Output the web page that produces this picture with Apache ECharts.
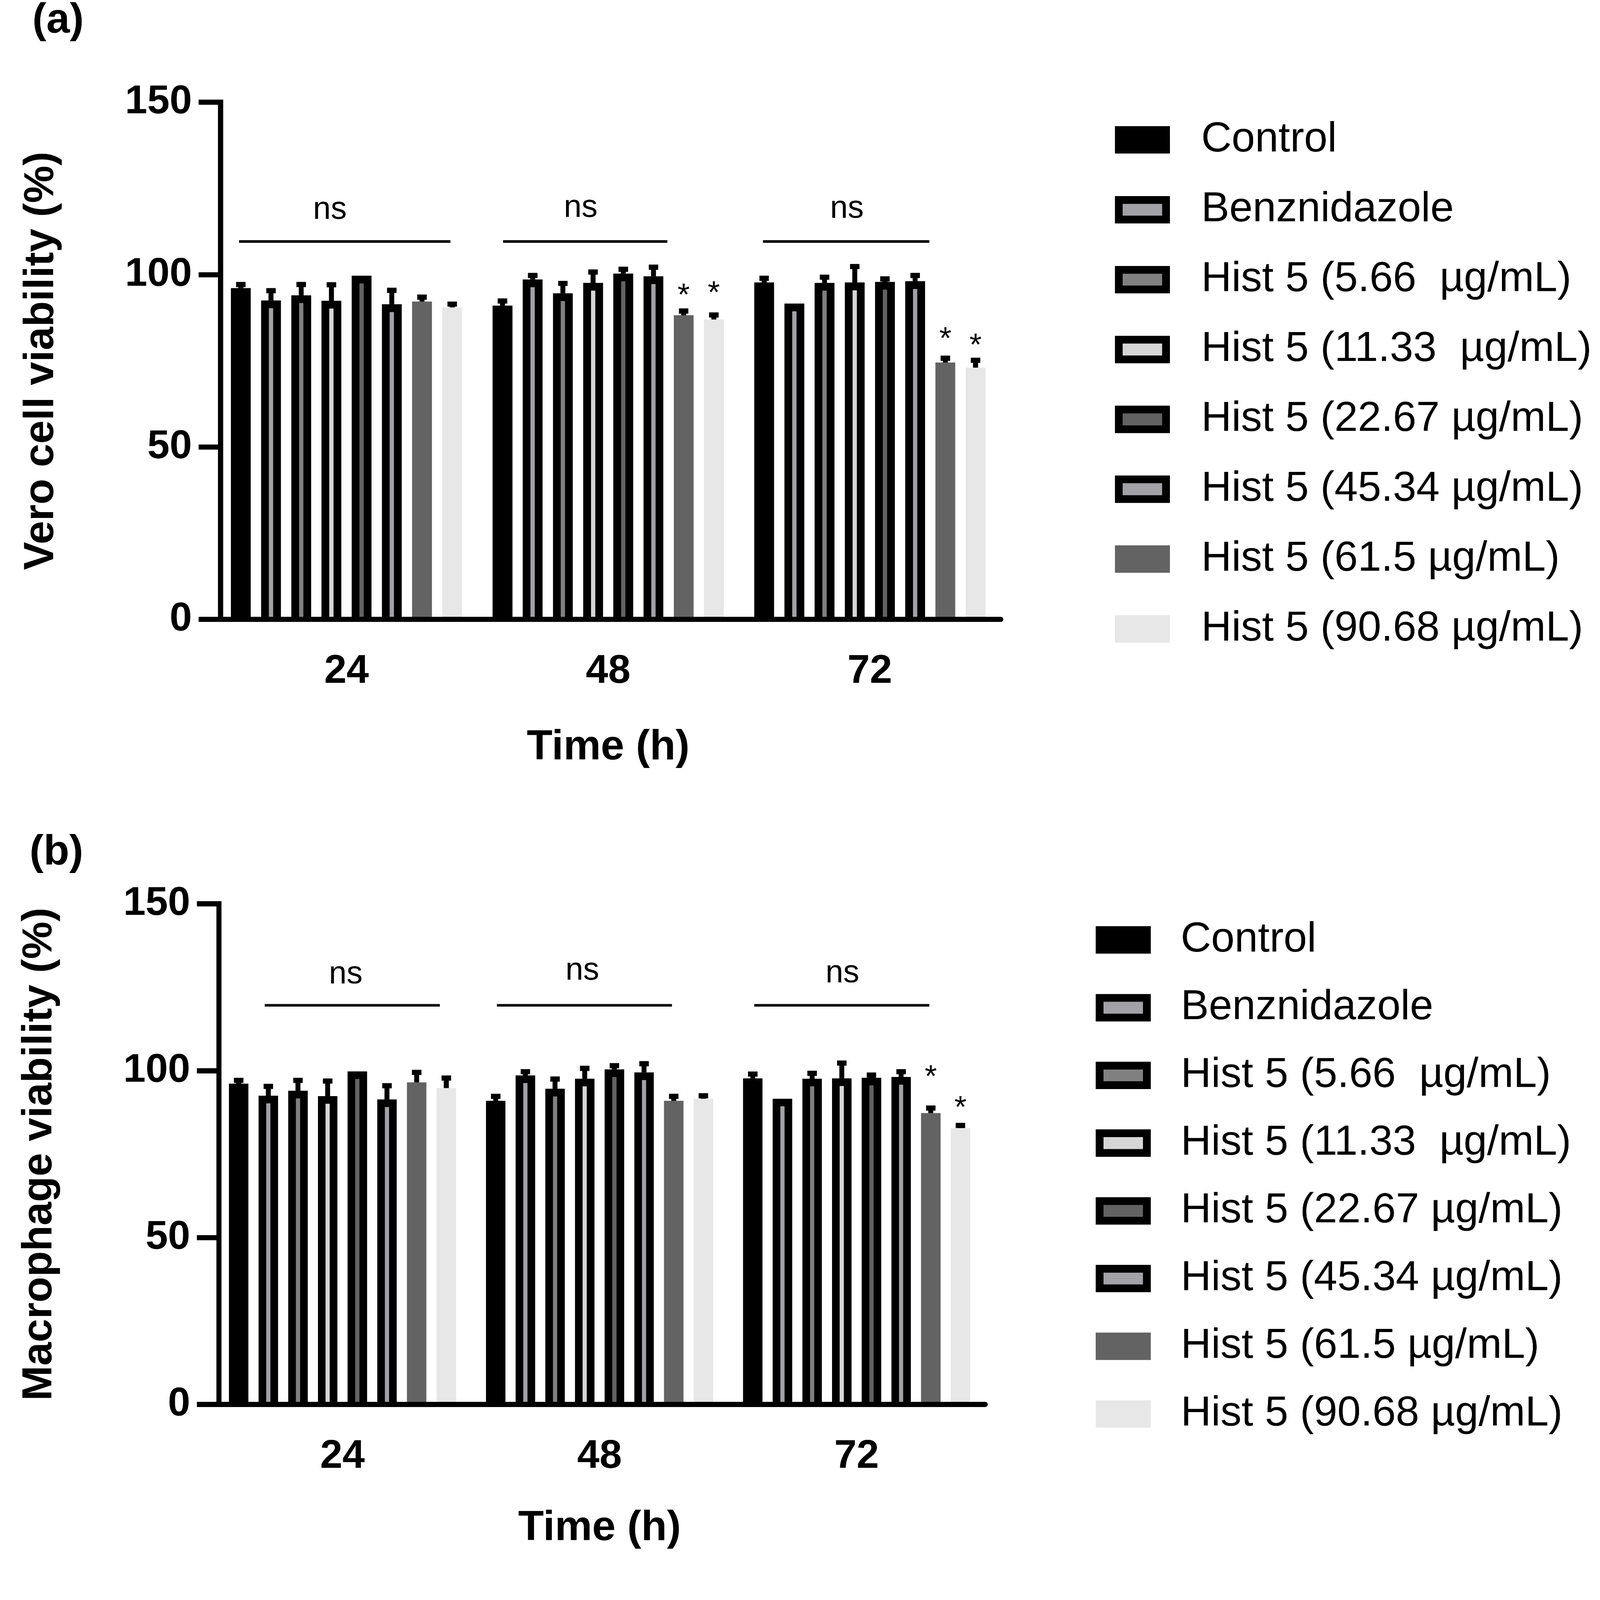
<!DOCTYPE html>
<html>
<head>
<meta charset="utf-8">
<script src="https://cdn.jsdelivr.net/npm/echarts@6/dist/echarts.min.js"></script>
<style>
html, body { margin: 0; padding: 0; background: #fff; overflow: hidden; }
#chart { width: 7419px; height: 7248px; transform-origin: 0 0; }
</style>
</head>
<body>
<div id="chart"></div>
<script>
var FONT = "'Liberation Sans', Arial, sans-serif";

var times = ['24', '48', '72'];
var groups = ['Control', 'Benznidazole', 'Hist 5 (5.66  µg/mL)', 'Hist 5 (11.33  µg/mL)',
    'Hist 5 (22.67 µg/mL)', 'Hist 5 (45.34 µg/mL)', 'Hist 5 (61.5 µg/mL)', 'Hist 5 (90.68 µg/mL)'];
var fills = ['#000000', '#a2a1a6', '#808080', '#d6d6d6', '#626262', '#a2a1a6', '#636363', '#e7e7e7'];
var framed = [false, true, true, true, true, true, false, false];

// (a) Vero cell viability, one value per group
var veroMean24 = [96.1, 92.5, 94.0, 92.4, 99.7, 91.4, 92.2, 90.5];
var veroErr24 = [1.05, 2.85, 3.15, 4.65, 0, 4.05, 1.25, 0.95];
var veroMean48 = [91.0, 98.6, 94.6, 97.6, 100.3, 99.5, 88.2, 87.0];
var veroErr48 = [1.35, 1.15, 2.85, 3.15, 1.25, 2.65, 1.25, 1.3];
var veroMean72 = [97.7, 91.6, 97.6, 97.7, 97.9, 98.1, 74.5, 73.0];
var veroErr72 = [1.25, 0, 1.65, 4.65, 0.85, 1.65, 1.25, 2.15];

// (b) Macrophage viability
var macroMean24 = [96.1, 92.5, 94.0, 92.4, 99.8, 91.4, 96.5, 94.8];
var macroErr24 = [1.0, 2.8, 3.1, 4.5, 0, 4.1, 3.0, 3.0];
var macroMean48 = [91.0, 98.6, 94.6, 97.6, 100.4, 99.5, 91.0, 91.6];
var macroErr48 = [1.3, 1.1, 2.9, 3.1, 1.1, 2.6, 1.3, 0.9];
var macroMean72 = [97.7, 91.6, 97.6, 97.7, 97.9, 98.1, 87.3, 82.8];
var macroErr72 = [1.3, 0, 1.6, 4.6, 0.8, 1.6, 1.5, 0.8];

// ns brackets: [time index, from slot, to slot, y]; slots are bar positions around the tick
var veroNs = [[0, -3.56, 3.44, 109.6], [1, -3.48, 1.96, 109.6], [2, -3.54, 1.97, 109.6]];
var veroNsText = [[0, -0.55, 118.7], [1, -0.91, 119.3], [2, -0.76, 119.0]];
var macroNs = [[0, -2.62, 3.28, 119.6], [1, -3.46, 2.44, 119.6], [2, -3.45, 2.45, 119.6]];
var macroNsText = [[0, 0.11, 128.8], [1, -0.58, 129.9], [2, -0.48, 129.1]];

// asterisks: [time index, group index, y]
var veroStars = [[1, 6, 95.5], [1, 7, 96.2], [2, 6, 82.9], [2, 7, 81.0]];
var macroStars = [[2, 6, 99.7], [2, 7, 90.5]];

var PITCH = 0.1154, BAR_W = 0.0758, FRAME = 0.0297;

function barRenderer(g) {
    return function (params, api) {
        var cat = api.value(0), v = api.value(1), e = api.value(2);
        var base = api.coord([cat, 0]);
        var top = api.coord([cat, v]);
        var band = api.size([1, 0])[0];
        var bw = band * BAR_W, bd = band * FRAME;
        var cx = base[0] + (g - 3.5) * band * PITCH;
        var x0 = cx - bw / 2, y1 = base[1] - 12;
        var kids = [{
            type: 'rect',
            shape: {x: x0, y: top[1], width: bw, height: y1 - top[1]},
            style: {fill: framed[g] ? '#000' : fills[g]}
        }];
        if (framed[g]) {
            kids.push({
                type: 'rect',
                shape: {x: x0 + bd, y: top[1] + bd, width: bw - 2 * bd, height: y1 - top[1] - bd},
                style: {fill: fills[g]}
            });
        }
        if (e > 0) {
            var cy = api.coord([cat, v + e])[1];
            kids.push({type: 'rect', shape: {x: cx - 11.5, y: cy, width: 23, height: top[1] - cy}, style: {fill: '#000'}});
            kids.push({type: 'rect', shape: {x: cx - 22, y: cy - 12, width: 44, height: 24}, style: {fill: '#000'}});
        }
        return {type: 'group', children: kids};
    };
}

function nsLineRenderer(params, api) {
    var p = api.coord([api.value(0), api.value(3)]);
    var step = api.size([1, 0])[0] * PITCH;
    return {
        type: 'line',
        shape: {x1: p[0] + api.value(1) * step, y1: p[1], x2: p[0] + api.value(2) * step, y2: p[1]},
        style: {stroke: '#000', lineWidth: 12}
    };
}

function nsTextRenderer(params, api) {
    var p = api.coord([api.value(0), api.value(2)]);
    var step = api.size([1, 0])[0] * PITCH;
    return {
        type: 'text',
        x: p[0] + api.value(1) * step,
        y: p[1],
        style: {text: 'ns', fill: '#000', font: '148px ' + FONT, align: 'center', verticalAlign: 'middle'}
    };
}

function starRenderer(params, api) {
    var p = api.coord([api.value(0), api.value(2)]);
    var step = api.size([1, 0])[0] * PITCH;
    return {
        type: 'text',
        x: p[0] + (api.value(1) - 3.5) * step,
        y: p[1] + 30,
        style: {text: '*', fill: '#000', font: '145px ' + FONT, align: 'center', verticalAlign: 'middle'}
    };
}

var panels = [
    {mean: [veroMean24, veroMean48, veroMean72], err: [veroErr24, veroErr48, veroErr72],
        ns: veroNs, nsText: veroNsText, stars: veroStars},
    {mean: [macroMean24, macroMean48, macroMean72], err: [macroErr24, macroErr48, macroErr72],
        ns: macroNs, nsText: macroNsText, stars: macroStars}
];

var series = [];
panels.forEach(function (pan, p) {
    groups.forEach(function (name, g) {
        series.push({
            type: 'custom',
            name: name,
            xAxisIndex: p,
            yAxisIndex: p,
            itemStyle: {color: fills[g]},
            encode: {x: 0, y: 1},
            renderItem: barRenderer(g),
            data: times.map(function (t, i) { return [i, pan.mean[i][g], pan.err[i][g]]; })
        });
    });
    series.push({type: 'custom', xAxisIndex: p, yAxisIndex: p, silent: true, renderItem: nsLineRenderer, data: pan.ns});
    series.push({type: 'custom', xAxisIndex: p, yAxisIndex: p, silent: true, renderItem: nsTextRenderer, data: pan.nsText});
    series.push({type: 'custom', xAxisIndex: p, yAxisIndex: p, silent: true, renderItem: starRenderer, data: pan.stars});
});

function legendData() {
    return groups.map(function (n, g) {
        return {name: n, icon: 'rect',
            itemStyle: {color: fills[g], borderColor: framed[g] ? '#000' : fills[g], borderWidth: 36}};
    });
}

function makeLegend(left, top, gap, pad) {
    return {
        orient: 'vertical', left: left, top: top, padding: 0,
        itemWidth: 219, itemHeight: 91, itemGap: gap,
        selectedMode: false,
        data: legendData(),
        textStyle: {fontSize: 195, fontFamily: FONT, color: '#000', lineHeight: 127, padding: [0, 0, 0, pad]}
    };
}

var boldText = {fontSize: 195, fontWeight: 'bold', color: '#000', fontFamily: FONT};

function makeX(p, gap) {
    return {
        gridIndex: p, type: 'category', data: times, boundaryGap: true,
        axisLine: {lineStyle: {color: '#000', width: 24}},
        axisTick: {alignWithLabel: true, length: 102, lineStyle: {color: '#000', width: 24}},
        axisLabel: {margin: 150, fontSize: 186, fontWeight: 'bold', color: '#000', fontFamily: FONT},
        splitLine: {show: false},
        name: 'Time (h)', nameLocation: 'middle', nameGap: gap, nameTextStyle: boldText
    };
}

function makeY(p, name, gap) {
    return {
        gridIndex: p, type: 'value', min: 0, max: 150, interval: 50, offset: -23,
        axisLine: {show: true, lineStyle: {color: '#000', width: 24, cap: 'square'}},
        axisTick: {show: true, length: 102, lineStyle: {color: '#000', width: 24}},
        axisLabel: {margin: 133, fontSize: 186, fontWeight: 'bold', color: '#000', fontFamily: FONT},
        splitLine: {show: false},
        name: name, nameLocation: 'middle', nameGap: gap, nameTextStyle: boldText
    };
}

// the page is laid out at 7419 x 7248 and scaled to whatever the viewport really is
var box = document.getElementById('chart');
var fit = Math.min(window.innerWidth / 7419, window.innerHeight / 7248, 1);
box.style.transform = 'scale(' + fit + ')';

var chart = echarts.init(box, null, {renderer: 'canvas', devicePixelRatio: 1});
chart.setOption({
    backgroundColor: '#fff',
    animation: false,
    title: [
        {text: '(a)', left: 150, top: 0, padding: 0, textStyle: boldText},
        {text: '(b)', left: 137, top: 3857, padding: 0, textStyle: boldText}
    ],
    legend: [
        makeLegend(5170, 551, 129, 158),
        makeLegend(5081, 4261, 119, 152)
    ],
    grid: [
        {left: 1000, width: 3640, top: 474, height: 2398},
        {left: 992, width: 3576, top: 4191, height: 2321}
    ],
    xAxis: [makeX(0, 498), makeX(1, 478)],
    yAxis: [makeY(0, 'Vero cell viability (%)', 733), makeY(1, 'Macrophage viability (%)', 733)],
    series: series
});
</script>
</body>
</html>
